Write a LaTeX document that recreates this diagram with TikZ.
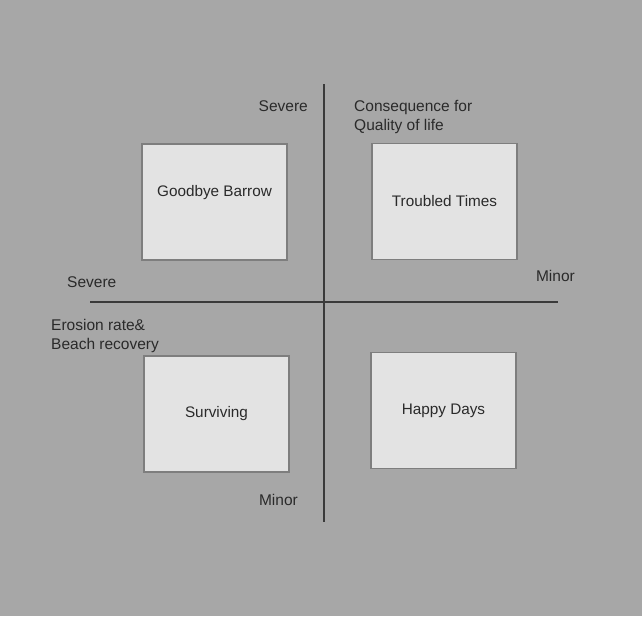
\documentclass[tikz,border=0pt]{standalone}
\usepackage{fontspec}
\setmainfont{Liberation Sans}
\definecolor{bggray}{HTML}{A7A7A7}
\definecolor{boxfill}{HTML}{E3E3E3}
\definecolor{boxedge}{HTML}{7E7E7E}
\definecolor{axisgray}{HTML}{3A3A3A}
\definecolor{inkgray}{HTML}{2A2A2A}
\begin{document}
\begin{tikzpicture}[x=1pt,y=-1pt,
  scenario/.style={draw=boxedge, line width=1.6pt, fill=boxfill,
    minimum width=145pt, minimum height=116pt, inner sep=0pt,
    text=inkgray, font=\fontsize{15.3}{18}\selectfont},
  axis/.style={draw=axisgray, line width=2.8pt},
  axislabel/.style={text=inkgray, inner sep=0pt,
    font=\fontsize{15.5}{19.5}\selectfont, align=left}]
  % page background
  \fill[bggray] (0,0) rectangle (642,616);
  \useasboundingbox (0,0) rectangle (642,616);

  % the four scenario boxes
  \node[scenario, label={[text=inkgray, font=\fontsize{15.3}{18}\selectfont, yshift=9pt]center:Goodbye Barrow}] (gb) at (214.5,202) {};
  \node[scenario] (tt) at (444.5,201.5) {Troubled Times};
  \node[scenario] (sv) at (216.5,414) {Surviving};
  \node[scenario] (hd) at (443.5,410.5) {Happy Days};

  % the two axes
  \coordinate (vtop) at (324,84);
  \coordinate (vbot) at (324,522);
  \coordinate (hleft) at (90,302);
  \coordinate (hright) at (558,302);
  \draw[axis] (vtop) -- (vbot);
  \draw[axis] (hleft) -- (hright);

  % axis labels
  \node[axislabel, anchor=east] (sevtop) at (308,106) {Severe};
  \node[axislabel, anchor=north west] (qol) at (354,100) {Consequence for\\Quality of life};
  \node[axislabel, anchor=east] (minright) at (575,276) {Minor};
  \node[axislabel, anchor=west] (sevleft) at (67,282) {Severe};
  \node[axislabel, anchor=north west] (eros) at (51,319) {Erosion rate\&\\Beach recovery};
  \node[axislabel, anchor=east] (minbot) at (298,500) {Minor};
\end{tikzpicture}
\end{document}
